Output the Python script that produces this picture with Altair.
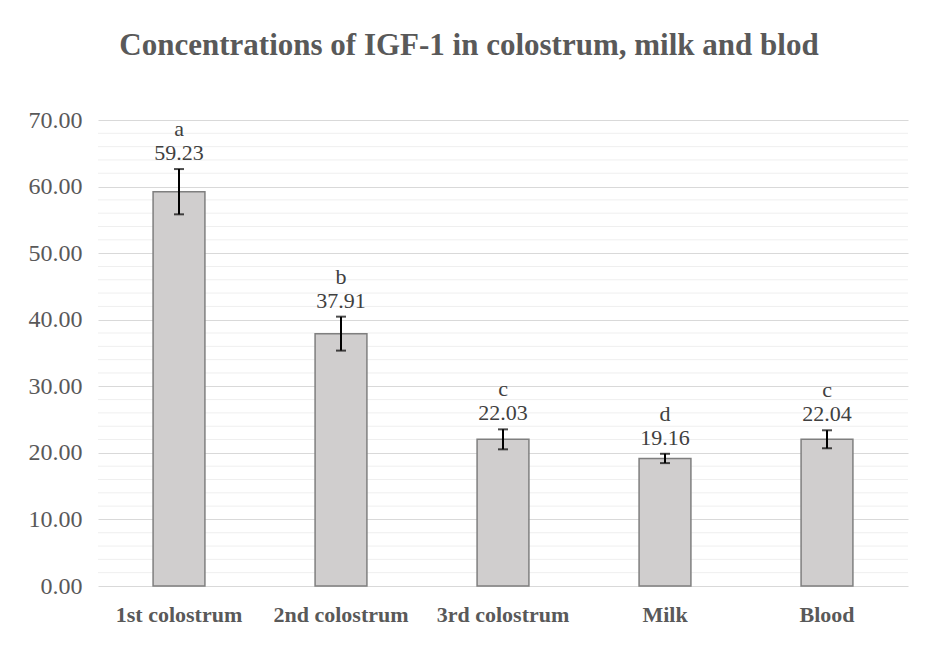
import altair as alt
import pandas as pd

categories = ["1st colostrum", "2nd colostrum", "3rd colostrum", "Milk", "Blood"]
values = [59.23, 37.91, 22.03, 19.16, 22.04]
errors = [3.4, 2.55, 1.5, 0.7, 1.35]
letters = ["a", "b", "c", "d", "c"]
major_ticks = [0, 10, 20, 30, 40, 50, 60, 70]
minor_ticks = [v for v in range(2, 70, 2) if v % 10 != 0]

df = pd.DataFrame({
    "cat": categories,
    "val": values,
    "err": errors,
    "letter": letters,
})
df["lo"] = df["val"] - df["err"]
df["hi"] = df["val"] + df["err"]
df["lab"] = df["val"].map(lambda v: f"{v:.2f}")
minor_df = pd.DataFrame({"tick": minor_ticks})

FONT = "Liberation Serif"
yscale = alt.Scale(domain=[0, 70], nice=False)
yaxis = alt.Axis(values=major_ticks, format=".2f", labelFont=FONT, labelFontSize=24,
                 labelColor="#595959", labelPadding=16, ticks=False, domain=False,
                 grid=True, gridColor="#d9d9d9", gridWidth=1.2)
xenc = alt.X("cat:N", sort=categories, title=None,
             scale=alt.Scale(paddingInner=0.68, paddingOuter=0.34),
             axis=alt.Axis(labelAngle=0, labelFont=FONT, labelFontSize=22,
                           labelFontWeight="bold", labelColor="#595959",
                           labelPadding=18, ticks=False, domain=False, grid=False))

minor = alt.Chart(minor_df).mark_rule(color="#efefef", strokeWidth=1).encode(
    y=alt.Y("tick:Q", scale=yscale, title=None, axis=yaxis),
)

bars = alt.Chart(df).mark_bar(color="#d0cece", stroke="#7f7f7f", strokeWidth=1.5).encode(
    x=xenc,
    y=alt.Y("val:Q", scale=yscale, title=None, axis=yaxis),
)

ebars = alt.Chart(df).mark_errorbar(ticks=alt.MarkConfig(size=10, color="black", strokeWidth=2),
                                    color="black", thickness=2).encode(
    x=alt.X("cat:N", sort=categories),
    y=alt.Y("lo:Q", scale=yscale),
    y2="hi:Q",
)

vlab = alt.Chart(df).mark_text(font=FONT, fontSize=22, color="#404040", baseline="bottom", dy=-4).encode(
    x=alt.X("cat:N", sort=categories),
    y=alt.Y("hi:Q", scale=yscale),
    text="lab:N",
)

llab = alt.Chart(df).mark_text(font=FONT, fontSize=22, color="#404040", baseline="bottom", dy=-28).encode(
    x=alt.X("cat:N", sort=categories),
    y=alt.Y("hi:Q", scale=yscale),
    text="letter:N",
)

chart = alt.layer(minor, bars, ebars, vlab, llab).properties(
    width=810,
    height=466,
    background="white",
    padding={"left": 90, "top": 112, "right": 9, "bottom": 57},
    autosize=alt.AutoSizeParams(type="none"),
    title=alt.TitleParams(
        "Concentrations of IGF-1 in colostrum, milk and blod",
        font=FONT, fontSize=31, fontWeight="bold", color="#595959",
        anchor="middle", offset=46, dx=-34,
    ),
).configure_view(stroke="transparent", strokeWidth=0)

chart.save("out.html", embed_options={"renderer": "svg", "actions": False})
